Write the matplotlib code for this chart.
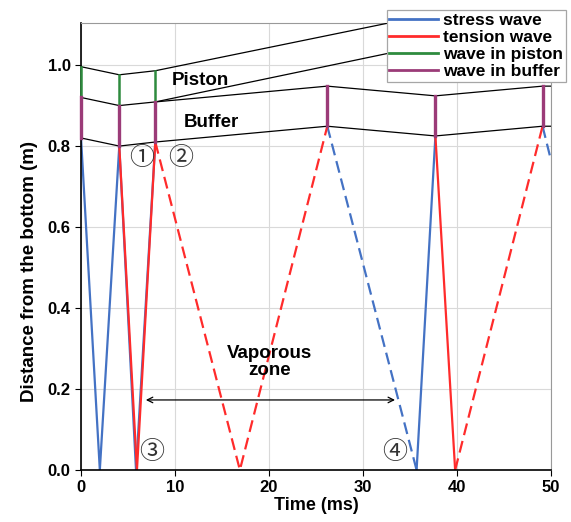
import matplotlib.pyplot as plt

plt.rcParams['font.family'] = ['Liberation Sans', 'DejaVu Sans', 'Noto Sans CJK JP']
plt.rcParams['font.weight'] = 'bold'

# Interfaces (time in ms, distance in m)
buffer_t = [0, 4.07, 7.9, 26.2, 37.7, 49.1, 50]
buffer_bottom = [0.82, 0.80, 0.81, 0.849, 0.825, 0.849, 0.849]
buffer_top = [0.92, 0.90, 0.909, 0.948, 0.924, 0.948, 0.948]
piston_top_t = [0, 4.07, 7.9, 50]
piston_top = [0.996, 0.976, 0.986, 1.186]
piston_bottom_t = [7.9, 50]
piston_bottom = [0.909, 1.113]

# Waves travelling in the liquid column
stress_solid = [([0, 2.0, 4.07, 5.85, 7.9], [0.82, 0, 0.80, 0, 0.81]),
                ([35.7, 37.7], [0, 0.825])]
stress_dashed = [([26.2, 35.7], [0.849, 0]),
                 ([49.1, 50], [0.849, 0.765])]
tension_solid = [([4.07, 5.95, 7.9], [0.80, 0, 0.81]),
                 ([37.7, 39.8], [0.825, 0])]
tension_dashed = [([7.9, 16.9, 26.2], [0.81, 0, 0.849]),
                  ([39.8, 49.1], [0, 0.849])]

# Waves inside piston and buffer (vertical segments)
piston_wave_t = [0, 4.07, 7.9]
buffer_wave_t = [0, 4.07, 7.9, 26.2, 37.7, 49.1]

blue = '#4472c4'
red = '#ff2b2b'
green = '#2e8b3e'
purple = '#9b3b78'
dash = (0, (5.4, 2.7))

fig = plt.figure(figsize=(5.71, 5.22), dpi=100)
ax = fig.add_axes([0.1419, 0.0996, 0.8231, 0.8564])

ax.plot(buffer_t, buffer_bottom, color='black', lw=0.9, zorder=3)
ax.plot(buffer_t, buffer_top, color='black', lw=0.9, zorder=3)
ax.plot(piston_top_t, piston_top, color='black', lw=0.9, zorder=3)
ax.plot(piston_bottom_t, piston_bottom, color='black', lw=0.9, zorder=3)

for t, y in stress_solid:
    ax.plot(t, y, color=blue, lw=1.6, zorder=2)
for t, y in stress_dashed:
    ax.plot(t, y, color=blue, lw=1.6, linestyle=dash, zorder=2)
for t, y in tension_solid:
    ax.plot(t, y, color=red, lw=1.6, zorder=2)
for t, y in tension_dashed:
    ax.plot(t, y, color=red, lw=1.6, linestyle=dash, zorder=2)

for t in piston_wave_t:
    i = buffer_t.index(t)
    j = piston_top_t.index(t)
    ax.plot([t, t], [buffer_top[i], piston_top[j]], color=green, lw=1.8,
            zorder=4, clip_on=False)
for t in buffer_wave_t:
    i = buffer_t.index(t)
    ax.plot([t, t], [buffer_bottom[i], buffer_top[i]], color=purple, lw=2.4,
            zorder=4, clip_on=False)

# legend proxies
ax.plot([], [], color=blue, lw=2, label='stress wave')
ax.plot([], [], color=red, lw=2, label='tension wave')
ax.plot([], [], color=green, lw=2, label='wave in piston')
ax.plot([], [], color=purple, lw=2, label='wave in buffer')

ax.text(12.7, 0.963, 'Piston', fontsize=13.5, ha='center', va='center')
ax.text(13.9, 0.859, 'Buffer', fontsize=13.5, ha='center', va='center')
ax.text(20.1, 0.267, 'Vaporous\nzone', fontsize=13.5, ha='center', va='center',
        linespacing=1.05)
ax.annotate('', xy=(6.6, 0.173), xytext=(33.7, 0.173),
            arrowprops=dict(arrowstyle='<->', color='black', lw=0.9))

circ = dict(fontsize=18, fontweight='normal', ha='center', va='center',
            color='#333333', family=['Noto Sans CJK JP', 'DejaVu Sans'])
ax.text(6.4, 0.77, '①', **circ)
ax.text(10.6, 0.77, '②', **circ)
ax.text(7.5, 0.045, '③', **circ)
ax.text(33.4, 0.045, '④', **circ)

ax.set_xlim(0, 50)
ax.set_ylim(0, 1.104)
ax.set_xticks([0, 10, 20, 30, 40, 50])
ax.set_yticks([0.0, 0.2, 0.4, 0.6, 0.8, 1.0])
ax.set_yticklabels(['0.0', '0.2', '0.4', '0.6', '0.8', '1.0'])
ax.tick_params(direction='out', length=4, labelsize=12, top=False, right=False)
ax.grid(True, color='#d9d9d9', lw=0.8)
ax.set_axisbelow(True)

ax.spines['top'].set_color('#999999')
ax.spines['right'].set_color('#999999')
ax.spines['left'].set_linewidth(1.2)
ax.spines['bottom'].set_linewidth(1.2)

ax.set_xlabel('Time (ms)', fontsize=13, fontweight='bold', labelpad=1)
ax.set_ylabel('Distance from the bottom (m)', fontsize=13.5, fontweight='bold')
ax.yaxis.set_label_coords(-0.092, 0.443)

leg = ax.legend(loc='upper right', bbox_to_anchor=(0.991, 0.981),
                bbox_transform=fig.transFigure, fontsize=12.5, fancybox=False,
                framealpha=1, labelspacing=0.12,
                handlelength=2.8, handletextpad=0.3, borderpad=0.15,
                borderaxespad=0)
leg.get_frame().set_linewidth(0.9)
leg.get_frame().set_edgecolor('#a6a6a6')
leg.set_zorder(10)

fig.savefig('out.png', dpi=100)
